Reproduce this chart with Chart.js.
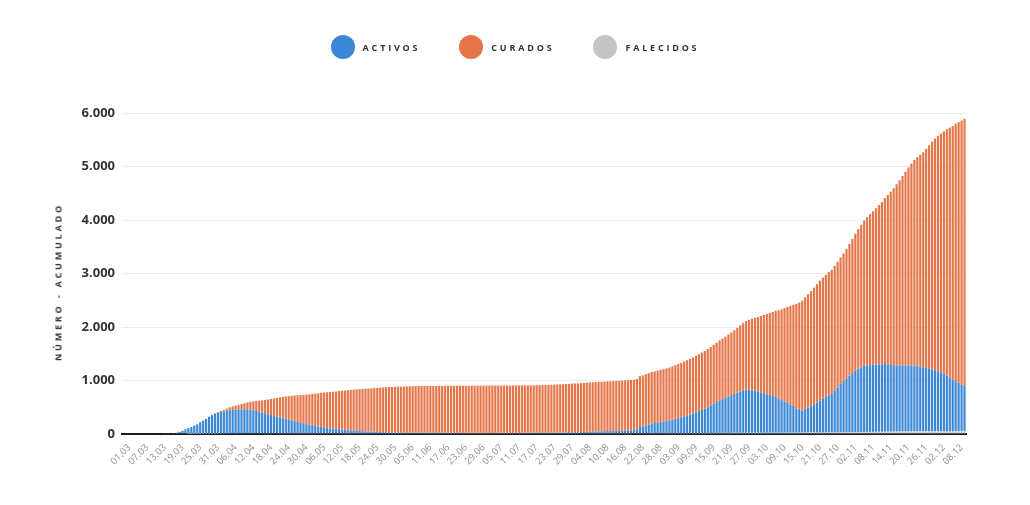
<!DOCTYPE html>
<html lang="pt">
<head>
<meta charset="UTF-8">
<title>Ativos, curados e falecidos — acumulado</title>
<script src="https://cdn.jsdelivr.net/npm/chart.js@4.4.6/dist/chart.umd.min.js"></script>
<style>
  *, *::before, *::after { box-sizing: border-box; margin: 0; padding: 0; }
  body { background: #fff; width: 1030px; height: 505px; overflow: hidden; font-family: "Open Sans", sans-serif; }
  .wrap { position: relative; width: 1030px; height: 505px; }
  .legend {
    position: absolute; top: 35px; left: 0; width: 1030px;
    display: flex; justify-content: center; align-items: center; gap: 39px;
  }
  .legend-item { display: flex; align-items: center; }
  .dot { width: 24px; height: 24px; border-radius: 50%; margin-right: 8px; }
  .legend-item span {
    font-size: 9px; font-weight: 700; letter-spacing: 2.8px; color: #333;
  }
  .ytitle {
    position: absolute; left: 58px; top: 282px;
    transform: translate(-50%, -50%) rotate(-90deg);
    font-size: 9px; font-weight: 700; letter-spacing: 2.8px; color: #333; white-space: nowrap;
  }
</style>
</head>
<body>
<div class="wrap">
  <canvas id="chart"></canvas>
  <div class="legend" id="legend"></div>
  <div class="ytitle">NÚMERO - ACUMULADO</div>
</div>
<script>
// ── Data (daily, 01.03 → 11.12) ──────────────────────────────────────────────

const firstDay = '2020-03-01';
const dayCount = 286;

const tickLabels = [
  '01.03','07.03','13.03','19.03','25.03','31.03','06.04','12.04','18.04','24.04',
  '30.04','06.05','12.05','18.05','24.05','30.05','05.06','11.06','17.06','23.06',
  '29.06','05.07','11.07','17.07','23.07','29.07','04.08','10.08','16.08','22.08',
  '28.08','03.09','09.09','15.09','21.09','27.09','03.10','09.10','15.10','21.10',
  '27.10','02.11','08.11','14.11','20.11','26.11','02.12','08.12'
];

const activos = [
  0,0,0,0,0,0,            // 01.03
  0,0,0,0,0,0,            // 07.03
  0,0,2,4,8,15,           // 13.03
  25,40,60,90,109,129,    // 19.03
  154,178,218,247,277,316,
  346,370,390,404,414,428,
  438,442,447,449,451,452, // 06.04
  450,445,434,419,404,388,
  373,357,342,327,312,296,
  281,271,256,241,225,210,
  195,185,170,160,150,135, // 30.04
  125,115,105,95,90,85,
  80,75,70,65,60,55,
  50,45,42,39,35,33,
  30,27,25,23,21,19,
  17,16,15,14,13,12,      // 30.05
  12,11,11,10,10,10,
  10,9,9,9,8,8,
  8,8,7,7,7,7,
  7,7,6,6,6,6,
  6,6,6,6,6,6,            // 29.06
  6,6,6,6,7,7,
  7,7,7,8,8,8,
  8,8,9,9,9,10,
  10,10,11,12,13,14,
  15,16,17,18,19,20,      // 29.07
  22,25,28,30,33,35,
  36,38,40,40,42,44,
  45,47,50,52,55,60,
  73,115,127,145,163,180, // 22.08
  190,198,207,216,226,236,
  250,265,280,295,312,328,
  345,365,388,410,432,455,
  480,510,545,575,605,630,
  655,680,705,730,752,775, // 21.09
  795,808,805,795,785,770,
  755,740,722,705,688,670,
  640,610,580,560,530,500,
  450,425,415,440,470,495, // 15.10
  530,565,600,635,665,695,
  725,780,840,905,960,1010,
  1060,1105,1150,1185,1210,1235, // 02.11
  1245,1250,1255,1258,1260,1262,
  1265,1255,1245,1240,1238,1236,
  1235,1234,1233,1232,1230,1225,
  1210,1195,1180,1165,1150,1140, // 26.11
  1120,1100,1070,1040,1000,960,
  930,900,870,845          // 08.12
];

const curados = [
  0,0,0,0,0,0,
  0,0,0,0,0,0,
  0,0,0,0,0,0,
  0,0,0,0,0,0,
  0,0,1,2,3,4,
  10,10,15,20,30,40,
  55,65,75,87,100,113,
  130,145,165,185,207,230,
  252,275,300,325,350,375,
  398,415,436,457,478,499,
  518,533,552,568,585,606,
  622,638,654,670,680,690,
  701,711,721,732,743,754,
  765,774,781,788,796,802,
  809,816,822,828,834,840,
  845,849,852,855,858,861,
  863,866,868,870,871,872,
  873,874,875,875,877,877,
  877,878,879,879,880,880,
  880,881,882,882,882,883,
  883,883,884,884,884,884,
  884,885,885,885,885,885,
  885,885,886,886,886,886,
  886,887,887,888,890,891,
  893,895,897,899,901,903,
  905,907,909,911,913,915,
  918,920,922,923,923,924,
  926,927,928,931,932,933,
  935,936,937,938,939,940,
  942,950,955,958,960,962,
  966,970,975,980,985,990,
  996,1003,1010,1017,1025,1033,
  1040,1048,1056,1064,1072,1080,
  1088,1096,1104,1112,1122,1132,
  1145,1160,1175,1190,1210,1235,
  1260,1285,1310,1335,1365,1395,
  1430,1465,1500,1535,1570,1610,
  1650,1700,1750,1790,1840,1890,
  1960,2010,2055,2090,2120,2150,
  2180,2210,2240,2265,2285,2305,
  2320,2335,2350,2365,2385,2420,
  2460,2510,2560,2610,2665,2720,
  2770,2820,2870,2920,2975,3030,
  3100,3170,3240,3310,3385,3460,
  3540,3620,3700,3770,3840,3900,
  3960,4020,4100,4180,4260,4330,
  4400,4460,4530,4600,4670,4740,
  4810,4870,4930,4990
];

const falecidos = [
  0,0,0,0,0,0,
  0,0,0,0,0,0,
  0,0,0,0,0,0,
  0,0,0,0,1,1,
  1,2,2,3,3,4,
  4,5,5,6,6,7,
  7,8,8,9,9,10,
  10,10,11,11,11,12,
  12,13,13,13,13,14,
  14,14,14,14,15,15,
  15,15,15,15,15,15,
  15,15,15,15,15,15,
  15,15,15,15,15,15,
  15,15,15,15,15,15,
  15,15,15,15,15,15,
  15,15,15,15,15,15,
  15,15,15,15,15,15,
  15,15,15,15,15,15,
  15,15,15,15,15,15,
  15,15,15,15,15,15,
  15,15,15,15,15,15,
  15,15,15,15,15,15,
  15,15,15,15,15,15,
  15,15,15,15,15,15,
  15,15,15,15,15,15,
  15,15,15,15,15,15,
  15,15,15,15,15,15,
  15,15,15,15,15,15,
  15,15,15,15,15,15,
  15,15,15,15,15,15,
  15,15,16,16,16,16,
  17,17,17,17,17,18,
  18,18,18,18,19,19,
  19,19,19,20,20,20,
  20,20,20,21,21,21,
  21,21,21,22,22,22,
  22,22,22,23,23,23,
  23,23,23,24,24,24,
  24,24,24,25,25,25,
  25,25,25,25,25,25,
  26,27,28,29,30,31,
  32,33,34,35,36,37,
  38,39,40,41,42,42,
  43,44,45,45,46,47,
  47,48,49,49,50,50,
  51,51,52,52,53,53,
  54,54,55,55,56,56,
  57,57,58,58
];

const seriesNames  = ['ACTIVOS', 'CURADOS', 'FALECIDOS'];
const seriesColors = ['#3a87d6', '#e5764a', '#c3c4c6'];

// ── Helpers ───────────────────────────────────────────────────────────────────

function buildDays(start, n) {
  const out = [];
  const d = new Date(start + 'T00:00:00Z');
  for (let i = 0; i < n; i++) {
    const dd = String(d.getUTCDate()).padStart(2, '0');
    const mm = String(d.getUTCMonth() + 1).padStart(2, '0');
    out.push(dd + '.' + mm);
    d.setUTCDate(d.getUTCDate() + 1);
  }
  return out;
}

function fmtThousands(v) {
  return String(v).replace(/\B(?=(\d{3})+(?!\d))/g, '.');
}

const days = buildDays(firstDay, dayCount);

// ── Legend (HTML, letter-spaced like the original) ────────────────────────────

document.getElementById('legend').innerHTML = seriesNames.map((name, i) =>
  `<div class="legend-item"><div class="dot" style="background:${seriesColors[i]}"></div><span>${name}</span></div>`
).join('');

// ── Chart ─────────────────────────────────────────────────────────────────────

const font = '"Open Sans", sans-serif';

const barStyle = { barPercentage: 0.74, categoryPercentage: 1.0, borderWidth: 0 };

new Chart(document.getElementById('chart'), {
  type: 'bar',
  data: {
    labels: days,
    datasets: [
      // stacking order: falecidos at the base, then activos, curados on top
      { label: 'Falecidos', data: falecidos, backgroundColor: seriesColors[2], ...barStyle },
      { label: 'Activos',   data: activos,   backgroundColor: seriesColors[0], ...barStyle },
      { label: 'Curados',   data: curados,   backgroundColor: seriesColors[1], ...barStyle },
    ],
  },
  options: {
    responsive: true,
    maintainAspectRatio: false,
    animation: false,
    layout: { padding: { top: 113, right: 64, bottom: 0, left: 0 } },
    plugins: {
      legend: { display: false },
      tooltip: { enabled: false },
    },
    scales: {
      x: {
        stacked: true,
        grid: { display: false, drawTicks: false },
        border: { display: true, color: '#1c1c1c', width: 2 },
        ticks: {
          autoSkip: false,
          maxRotation: 45,
          minRotation: 45,
          padding: 8,
          labelOffset: 6,
          color: '#8f8f8f',
          font: { family: font, size: 9.5 },
          callback: (v, i) => tickLabels.includes(days[i]) ? days[i] : null,
        },
        afterFit: s => { s.height = 71; },
      },
      y: {
        stacked: true,
        min: 0,
        max: 6000,
        grid: { color: '#ececec', drawTicks: false },
        border: { display: false },
        ticks: {
          stepSize: 1000,
          padding: 7,
          color: '#333',
          font: { family: font, size: 13, weight: '700' },
          callback: v => fmtThousands(v),
        },
        afterFit: s => { s.width = 122; },
      },
    },
  },
});
</script>
</body>
</html>
